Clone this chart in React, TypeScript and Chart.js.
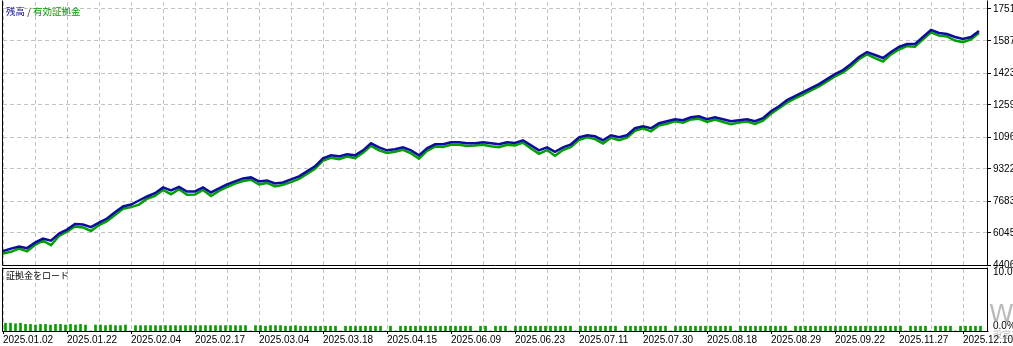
import React, { useEffect, useRef } from 'react';
import { Chart, registerables } from 'chart.js';

Chart.register(...registerables);

// ---------- data ----------
const dateLabels = [
  '2025.01.02', '2025.01.22', '2025.02.04', '2025.02.17', '2025.03.04', '2025.03.18',
  '2025.04.15', '2025.06.09', '2025.06.23', '2025.07.11', '2025.07.30', '2025.08.18',
  '2025.08.29', '2025.09.22', '2025.11.27', '2025.12.10',
];

const balanceLabel = '残高';
const equityLabel = '有効証拠金';
const loadLabel = '証拠金をロード';

const balance = [
  5115, 5243, 5346, 5269, 5552, 5757, 5654, 6014, 6219, 6502,
  6476, 6348, 6579, 6784, 7108, 7401, 7504, 7709, 7915, 8084,
  8377, 8223, 8403, 8171, 8171, 8377, 8120, 8326, 8531, 8685,
  8839, 8891, 8685, 8737, 8582, 8634, 8788, 8942, 9199, 9456,
  9867, 10021, 9969, 10072, 10021, 10278, 10637, 10432, 10278, 10329,
  10432, 10278, 10021, 10380, 10586, 10586, 10689, 10689, 10637, 10637,
  10689, 10637, 10586, 10689, 10653, 10791, 10534, 10278, 10432, 10201,
  10432, 10586, 10946, 11048, 10997, 10791, 11048, 10946, 11048, 11408,
  11510, 11408, 11665, 11767, 11870, 11819, 11973, 12024, 11870, 11973,
  11870, 11767, 11819, 11870, 11767, 11921, 12281, 12538, 12846, 13052,
  13257, 13463, 13668, 13925, 14182, 14387, 14695, 15055, 15312, 15158,
  15004, 15312, 15569, 15723, 15723, 16082, 16442, 16288, 16236, 16082,
  15980, 16082, 16391,
];

const equity = [
  4990, 5080, 5250, 5110, 5430, 5650, 5420, 5890, 6110, 6380,
  6330, 6150, 6450, 6650, 6970, 7290, 7370, 7500, 7800, 7940,
  8250, 8030, 8290, 8000, 8010, 8250, 7940, 8200, 8400, 8570,
  8710, 8770, 8530, 8610, 8430, 8510, 8650, 8820, 9070, 9330,
  9750, 9900, 9820, 9960, 9880, 10150, 10510, 10280, 10140, 10210,
  10300, 10120, 9850, 10250, 10470, 10450, 10560, 10560, 10500, 10520,
  10560, 10490, 10440, 10560, 10520, 10670, 10370, 10100, 10290, 10000,
  10290, 10450, 10810, 10940, 10850, 10630, 10920, 10800, 10930, 11280,
  11400, 11250, 11550, 11640, 11760, 11690, 11860, 11900, 11730, 11850,
  11730, 11610, 11700, 11750, 11630, 11800, 12150, 12430, 12720, 12940,
  13130, 13350, 13550, 13810, 14060, 14270, 14570, 14940, 15190, 15000,
  14830, 15190, 15440, 15610, 15580, 15960, 16320, 16150, 16110, 15900,
  15820, 15960, 16280,
];

const priceTicks = [4406, 6045, 7683, 9322, 10960, 12599, 14237, 15876, 17515];
const loadTicks = [0, 10];

const marginLoad = [
  1.3, 1.3, 1.2, 1.3, 1.1, 1.1, 1.0, 1.1, 1.1, 1.0, 1.1, 1.1, 1.0, 1.1,
  1.0, 1.1, 1.0, 0, 1.0, 1.0, 0.9, 1.0, 0.9, 0.9, 1.0, 0, 0.9, 0.9,
  0.9, 0.9, 0.9, 0.9, 0.9, 0.9, 0.9, 0.9, 0.9, 0.9, 0.9, 0.9, 0.9, 0.9,
  0.9, 0.9, 0.9, 0.9, 0.9, 0.9, 0.9, 0, 0.9, 0.9, 0.8, 0.9, 0.9, 0.9,
  0.8, 0.8, 0.9, 0.8, 0.8, 0.8, 0.8, 0.8, 0.8, 0.8, 0.8, 0, 0.8, 0.8,
  0.8, 0.8, 0.8, 0.8, 0.8, 0.8, 0, 0.8, 0, 0.8, 0.8, 0.8, 0.8, 0.8,
  0.8, 0.8, 0.8, 0.8, 0.8, 0.8, 0.8, 0.8, 0.8, 0.8, 0, 0.8, 0.8, 0,
  0.8, 0.8, 0.8, 0, 0.8, 0.8, 0.8, 0.8, 0.8, 0.8, 0.8, 0.8, 0.8, 0.8,
  0.8, 0.8, 0, 0.8, 0.8, 0.8, 0.8, 0.8, 0.8, 0.8, 0.8, 0, 0.8, 0.8,
  0.8, 0.8, 0.8, 0.8, 0.8, 0.8, 0.8, 0, 0.8, 0.8, 0.8, 0.8, 0.8, 0.8,
  0.8, 0.8, 0.8, 0.8, 0.8, 0.8, 0, 0.8, 0.8, 0.8, 0.8, 0.8, 0.8, 0.8,
  0.8, 0.8, 0.8, 0, 0.8, 0.8, 0.8, 0.8, 0.8, 0.8, 0.8, 0.8, 0.8, 0.8,
  0.8, 0.8, 0.8, 0.8, 0.8, 0.8, 0.8, 0.8, 0.8, 0.8, 0.8, 0.8, 0, 0.8,
  0.8, 0.8, 0.8, 0, 0.8, 0.8, 0.8, 0.8, 0, 0.8, 0.8, 0.8, 0.8, 0.8,
];

// ---------- layout / style ----------
const W = 1013;
const H = 346;
const TOP_H = 268;
const BOT_TOP = 267;
const BOT_H = H - BOT_TOP;

const X_MAX = 123;
const GRID_STEP = 4;
const LABEL_STEP = 8;
const LOAD_STEP = 0.625;
const Y_MIN = 4406;
const Y_MAX = 17873;

const BLUE = '#0c0ca0';
const GREEN = '#00a000';
const GRID_COLOR = '#c3c3c3';
const DASH = [4, 3];
const FONT_NUM = '"Liberation Sans", Arial, sans-serif';
const FONT_CJK = '"Noto Sans CJK JP", "Noto Sans CJK SC", sans-serif';

type Sides = { top?: boolean; bottom?: boolean; left?: boolean; right?: boolean };

function makeFrame(id: string, sides: Sides) {
  return {
    id,
    afterDraw(chart: any) {
      const { ctx, chartArea: a } = chart;
      ctx.save();
      ctx.strokeStyle = '#000';
      ctx.lineWidth = 1;
      ctx.beginPath();
      const l = a.left - 0.5;
      const r = a.right + 0.5;
      const t = a.top - 0.5;
      const b = a.bottom + 0.5;
      if (sides.left) { ctx.moveTo(l, t - 1); ctx.lineTo(l, b); }
      if (sides.right) { ctx.moveTo(r, t - 1); ctx.lineTo(r, b); }
      if (sides.top) { ctx.moveTo(l, t); ctx.lineTo(r, t); }
      if (sides.bottom) { ctx.moveTo(l, b); ctx.lineTo(r + 1, b); }
      ctx.stroke();
      ctx.restore();
    },
  };
}

function makeCaption(id: string, parts: { text: string; color: string }[], size: number, y: number) {
  return {
    id,
    afterDraw(chart: any) {
      const ctx = chart.ctx;
      ctx.save();
      ctx.font = `${size}px ${FONT_CJK}`;
      ctx.textBaseline = 'middle';
      ctx.textAlign = 'left';
      let x = 6;
      for (const p of parts) {
        ctx.fillStyle = p.color;
        ctx.fillText(p.text, x, y);
        x += ctx.measureText(p.text).width;
      }
      ctx.restore();
    },
  };
}

export default function App() {
  const topRef = useRef<HTMLCanvasElement | null>(null);
  const botRef = useRef<HTMLCanvasElement | null>(null);

  useEffect(() => {
    const numFont = { family: FONT_NUM, size: 10 };

    const top = new Chart(topRef.current as HTMLCanvasElement, {
      type: 'line',
      data: {
        datasets: [
          {
            label: balanceLabel,
            data: balance.map((v, i) => ({ x: i, y: v })),
            borderColor: BLUE,
            borderWidth: 2.5,
            pointRadius: 0,
            tension: 0,
            order: 0,
          },
          {
            label: equityLabel,
            data: equity.map((v, i) => ({ x: i, y: v })),
            borderColor: GREEN,
            borderWidth: 2.5,
            pointRadius: 0,
            tension: 0,
            order: 1,
          },
        ],
      },
      options: {
        responsive: false,
        animation: false,
        events: [],
        layout: { padding: { left: 3, top: 2, right: 0, bottom: 3 }, autoPadding: false },
        plugins: { legend: { display: false }, tooltip: { enabled: false } },
        scales: {
          x: {
            type: 'linear',
            min: 0,
            max: X_MAX,
            ticks: { display: false, stepSize: GRID_STEP, includeBounds: false, autoSkip: false },
            grid: { color: GRID_COLOR, drawTicks: false, lineWidth: 1 },
            border: { display: false, dash: DASH },
            afterFit: (s: any) => { s.height = 0; s.paddingLeft = 0; s.paddingRight = 0; },
          },
          y: {
            type: 'linear',
            position: 'right',
            min: Y_MIN,
            max: Y_MAX,
            afterBuildTicks: (s: any) => { s.ticks = priceTicks.map((v) => ({ value: v })); },
            ticks: {
              font: numFont,
              color: '#000',
              padding: 2,
              autoSkip: false,
              callback: (v: any) => String(v),
            },
            grid: { color: GRID_COLOR, tickColor: '#000', tickLength: 4, lineWidth: 1 },
            border: { display: false, dash: DASH },
            afterFit: (s: any) => { s.width = W - 987; s.paddingTop = 0; s.paddingBottom = 0; },
          },
        },
      } as any,
      plugins: [
        makeFrame('topFrame', { left: true, right: true, bottom: true }),
        makeCaption('topCaption', [
          { text: balanceLabel, color: BLUE },
          { text: ' / ', color: '#222' },
          { text: equityLabel, color: GREEN },
        ], 9.5, 11),
      ],
    });

    const bot = new Chart(botRef.current as HTMLCanvasElement, {
      type: 'bar',
      data: {
        datasets: [
          {
            label: loadLabel,
            data: marginLoad.map((v, k) => ({ x: (k + 0.5) * LOAD_STEP, y: v })),
            backgroundColor: GREEN,
            borderWidth: 0,
            barThickness: 2,
            xAxisID: 'x',
            yAxisID: 'yLoad',
          },
        ],
      },
      options: {
        responsive: false,
        animation: false,
        events: [],
        layout: { padding: { left: 3, top: 2, right: 0, bottom: 0 }, autoPadding: false },
        plugins: { legend: { display: false }, tooltip: { enabled: false } },
        scales: {
          x: {
            type: 'linear',
            position: 'bottom',
            min: 0,
            max: X_MAX,
            offset: false,
            ticks: {
              stepSize: GRID_STEP,
              includeBounds: false,
              autoSkip: false,
              maxRotation: 0,
              minRotation: 0,
              align: 'start',
              padding: 0,
              font: numFont,
              color: '#000',
              callback: (v: any) => (v % LABEL_STEP === 0 ? dateLabels[v / LABEL_STEP] ?? '' : ''),
            },
            grid: {
              offset: false,
              color: GRID_COLOR,
              lineWidth: 1,
              tickLength: 3,
              tickColor: (c: any) => (c.tick && c.tick.value % LABEL_STEP === 0 ? '#000' : 'rgba(0,0,0,0)'),
            },
            border: { display: false, dash: DASH },
            afterFit: (s: any) => { s.height = 15; s.paddingLeft = 0; s.paddingRight = 0; },
          },
          yLoad: {
            type: 'linear',
            position: 'right',
            display: false,
            min: 0,
            max: 10.33,
          },
          yLab: {
            type: 'linear',
            position: 'right',
            min: -0.926,
            max: 10.556,
            afterBuildTicks: (s: any) => { s.ticks = loadTicks.map((v) => ({ value: v })); },
            ticks: {
              font: numFont,
              color: '#000',
              padding: 6,
              autoSkip: false,
              callback: (v: any) => Number(v).toFixed(1) + '%',
            },
            grid: { display: false, drawOnChartArea: false, drawTicks: false },
            border: { display: false },
            afterFit: (s: any) => { s.width = W - 987; s.paddingTop = 0; s.paddingBottom = 0; },
          },
        },
      } as any,
      plugins: [
        makeFrame('botFrame', { left: true, right: true, top: true, bottom: true }),
        makeCaption('botCaption', [{ text: loadLabel, color: '#000' }], 9, 9),
      ],
    });

    return () => {
      top.destroy();
      bot.destroy();
    };
  }, []);

  return (
    <div
      style={{
        position: 'fixed',
        left: 0,
        top: 0,
        width: W,
        height: H,
        overflow: 'hidden',
        background: '#fff',
      }}
    >
      <canvas ref={topRef} width={W} height={TOP_H} style={{ position: 'absolute', left: 0, top: 0 }} />
      <canvas ref={botRef} width={W} height={BOT_H} style={{ position: 'absolute', left: 0, top: BOT_TOP }} />
      <div
        style={{
          position: 'absolute',
          left: 989,
          top: 299,
          whiteSpace: 'nowrap',
          color: 'rgba(140,140,140,0.6)',
          fontFamily: '"DejaVu Sans", sans-serif',
          fontSize: 25,
          lineHeight: '30px',
          pointerEvents: 'none',
        }}
      >
        Windows
        <div style={{ fontSize: 9, lineHeight: '12px', fontFamily: FONT_CJK, marginLeft: 4 }}>設定を開き</div>
      </div>
    </div>
  );
}
